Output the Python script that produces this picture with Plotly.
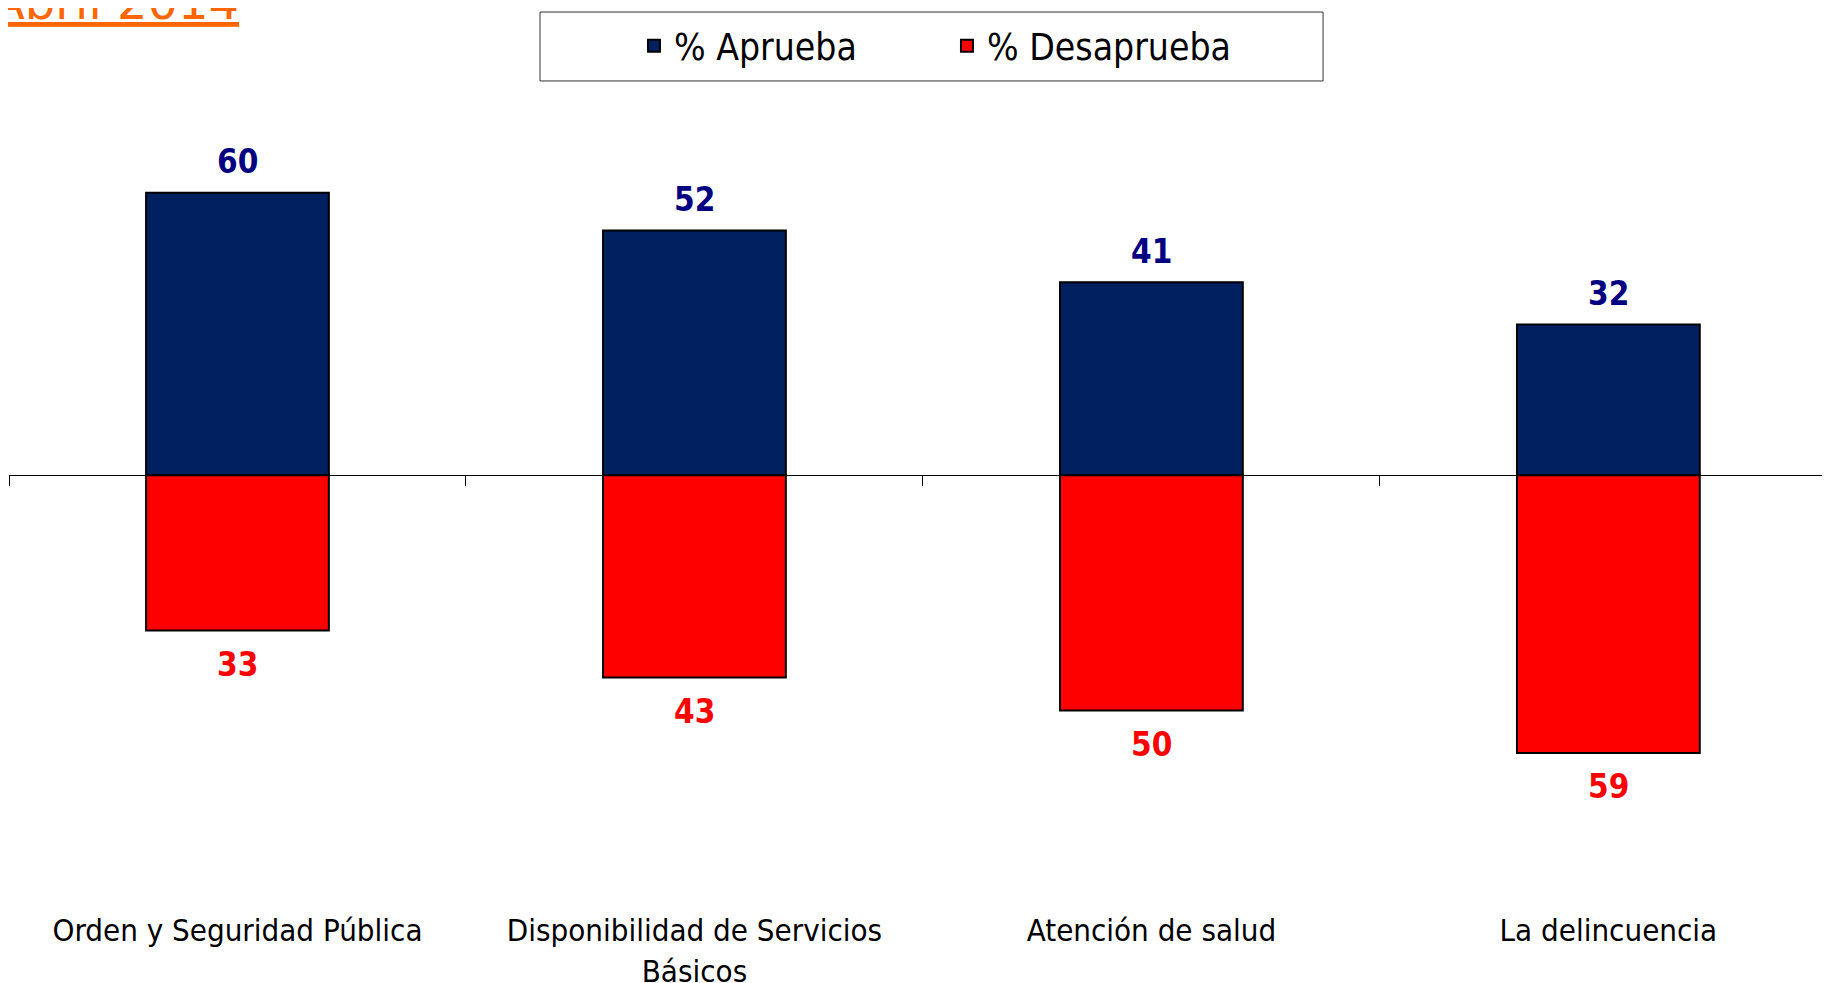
import plotly.graph_objects as go

categories = [
    "Orden y Seguridad Pública",
    "Disponibilidad de Servicios<br>Básicos",
    "Atención de salud",
    "La delincuencia",
]
aprueba = [60, 52, 41, 32]
desaprueba = [33, 43, 50, 59]

NAVY = "#002060"
RED = "#FF0000"
LABEL_NAVY = "#000080"
ORANGE = "#FF6600"
FONT = "DejaVu Sans Condensed"

# value axis range, zero line sits where the category axis is drawn
y_min, y_max = -86.0, 79.7
zero_pos = -y_min / (y_max - y_min)

fig = go.Figure()
fig.add_trace(
    go.Bar(
        name="% Aprueba",
        x=categories,
        y=aprueba,
        width=0.4,
        marker={"color": NAVY, "line": {"color": "black", "width": 2}},
    )
)
fig.add_trace(
    go.Bar(
        name="% Desaprueba",
        x=categories,
        y=[-v for v in desaprueba],
        width=0.4,
        marker={"color": RED, "line": {"color": "black", "width": 2}},
    )
)

# value labels above / below each bar
annotations = []
for cat, v in zip(categories, aprueba):
    annotations.append(
        dict(
            x=cat, y=v, xref="x", yref="y", text=f"<b>{v}</b>", showarrow=False,
            yshift=31, font={"family": FONT, "size": 33, "color": LABEL_NAVY},
        )
    )
for cat, v in zip(categories, desaprueba):
    annotations.append(
        dict(
            x=cat, y=-v, xref="x", yref="y", text=f"<b>{v}</b>", showarrow=False,
            yshift=-34, font={"family": FONT, "size": 33, "color": RED},
        )
    )

# period heading, clipped at the top left corner
annotations.append(
    dict(
        x=-0.0104, y=1.087, xref="paper", yref="paper",
        xanchor="left", yanchor="bottom", showarrow=False,
        text="<u>Abril 2014</u>",
        font={"family": "DejaVu Sans", "size": 48, "color": ORANGE},
    )
)

fig.update_layout(
    template="none",
    width=1830,
    height=983,
    margin={"l": 1, "r": 8, "t": 92, "b": 111},
    paper_bgcolor="white",
    plot_bgcolor="white",
    barmode="relative",
    showlegend=True,
    legend={
        "orientation": "h",
        "x": 0.3432,
        "y": 1.069,
        "xanchor": "left",
        "yanchor": "middle",
        "entrywidth": 268,
        "font": {"family": FONT, "size": 37, "color": "black"},
        "bgcolor": "rgba(0,0,0,0)",
        "borderwidth": 0,
    },
    shapes=[
        dict(
            type="rect", xref="paper", yref="paper",
            x0=0.2916, x1=0.7216, y0=1.0244, y1=1.1128,
            line={"color": "#333333", "width": 1},
        )
    ],
    annotations=annotations,
    xaxis={
        "type": "category",
        "range": [-0.5, 3.485],
        "anchor": "free",
        "position": zero_pos,
        "showline": True,
        "linecolor": "black",
        "linewidth": 1,
        "ticks": "outside",
        "tickson": "boundaries",
        "ticklen": 10,
        "tickcolor": "black",
        "tickwidth": 1,
        "ticklabelstandoff": 428,
        "tickfont": {"family": FONT, "size": 31, "color": "black"},
        "showgrid": False,
        "zeroline": False,
        "automargin": False,
    },
    yaxis={
        "range": [y_min, y_max],
        "visible": False,
        "showgrid": False,
        "zeroline": False,
    },
)

fig.write_html("out.html")
